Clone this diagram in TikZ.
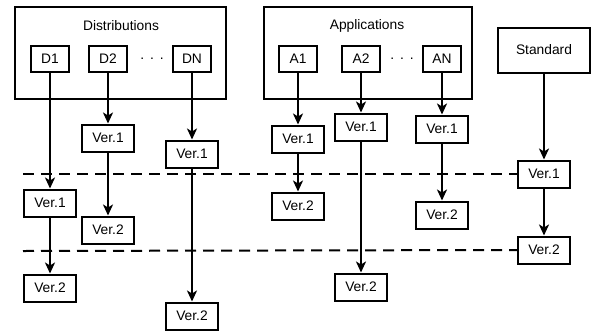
\documentclass[tikz,border=0pt]{standalone}
\usepackage{fontspec}
\setmainfont{Liberation Sans}
\usetikzlibrary{arrows.meta}

\begin{document}
\begin{tikzpicture}[x=1pt,y=-1pt,
    font=\fontsize{13.8}{16}\selectfont,
    box/.style={draw,line width=2pt,inner sep=0pt},
    src/.style={box,minimum width=38,minimum height=26},
    ver/.style={box,minimum width=52,minimum height=27},
    flow/.style={line width=2pt,-{Stealth[length=11pt,width=10pt,inset=3pt]}},
    level/.style={line width=2pt,dash pattern=on 11pt off 7pt}]

  \useasboundingbox (0,0) rectangle (592,333);

  %%%% Group boxes %%%%
  \node[box,minimum width=211,minimum height=92] (dist) at (120.5,53) {};
  \node (distlbl) at (121,26) {Distributions};
  \node[box,minimum width=208,minimum height=92] (apps) at (368,53) {};
  \node (appslbl) at (367,26) {Applications};
  \node[box,minimum width=92,minimum height=45] (std) at (544,50) {Standard};

  %% sources inside the groups
  \foreach \n/\t/\x in {d1/D1/50,d2/D2/108,dn/DN/192,a1/A1/298,a2/A2/361,an/AN/442}{
    \node[src] (\n) at (\x,59) {\t};
  }
  \node (ddots) at (152,59) {.\hspace{6pt}.\hspace{6pt}.};
  \node (adots) at (402,59) {.\hspace{6pt}.\hspace{6pt}.};

  %% version boxes
  \foreach \n/\t/\x/\y in {d2v1/Ver.1/108/138, dnv1/Ver.1/192/154,
      a1v1/Ver.1/298/139, a2v1/Ver.1/361/127, anv1/Ver.1/442/129,
      d1v1/Ver.1/50/203, d2v2/Ver.2/108/230, d1v2/Ver.2/50/288,
      dnv2/Ver.2/192/316, a1v2/Ver.2/298/206, anv2/Ver.2/442/215,
      a2v2/Ver.2/361/287, sv1/Ver.1/544/174, sv2/Ver.2/544/250}{
    \node[ver] (\n) at (\x,\y) {\t};
  }

  %% level lines
  \coordinate (lv1) at (23,174);
  \coordinate (lv2) at (23,251);
  \draw[level] (lv1) -- (sv1.west);
  \draw[level] (lv2) -- (sv2.west);

  %% arrows
  \foreach \a/\b in {d1/d1v1,d1v1/d1v2,d2/d2v1,d2v1/d2v2,dn/dnv1,dnv1/dnv2,
      a1/a1v1,a1v1/a1v2,a2/a2v1,a2v1/a2v2,an/anv1,anv1/anv2,std/sv1,sv1/sv2}{
    \draw[flow] (\a) -- (\b);
  }

\end{tikzpicture}
\end{document}
